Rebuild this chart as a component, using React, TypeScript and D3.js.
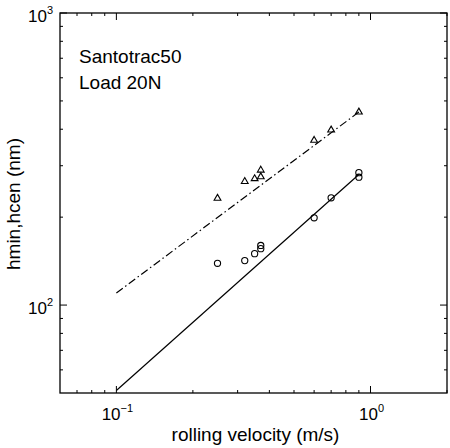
import React from "react";
import * as d3 from "d3";

const hminX = [0.25, 0.32, 0.35, 0.37, 0.37, 0.6, 0.7, 0.9, 0.9];
const hminY = [139, 142, 150, 156, 160, 199, 233, 274, 284];
const hcenX = [0.25, 0.32, 0.35, 0.37, 0.37, 0.6, 0.7, 0.9];
const hcenY = [233, 266, 272, 276, 291, 368, 399, 460];
const hminFitX = [0.1, 0.9];
const hminFitY = [51, 280];
const hcenFitX = [0.1, 0.9];
const hcenFitY = [110, 458];
const xMajor = [0.1, 1];
const xMinor = [0.07, 0.08, 0.09, 0.2, 0.3, 0.4, 0.5, 0.6, 0.7, 0.8, 0.9, 2];
const yMajor = [100, 1000];
const yMinor = [60, 70, 80, 90, 200, 300, 400, 500, 600, 700, 800, 900];
const xMajorExp = ["\u22121", "0"];
const yMajorExp = ["2", "3"];
const annot = ["Santotrac50", "Load 20N"];

export default function App() {
  const L = 60, R = 447, T = 13, B = 393;
  const x = d3.scaleLog().domain([0.06, 2]).range([L, R]);
  const y = d3.scaleLog().domain([50, 1000]).range([B, T]);
  const line = d3.line<number>();
  const fitPath = (xs: number[], ys: number[]) =>
    line(xs.map((v, i) => [x(v), y(ys[i])]) as any) || "";
  const font = "'Liberation Sans', Arial, Helvetica, sans-serif";
  const tri = (cx: number, cy: number) =>
    `M${cx},${cy - 3.4}L${cx + 3.4},${cy + 2.5}L${cx - 3.4},${cy + 2.5}Z`;
  return (
    <svg width={450} height={448} style={{ position: "absolute", left: 0, top: 0, background: "#fff" }} fontFamily={font}>
      <rect x={0} y={0} width={450} height={448} fill="#fff" />
      {/* ticks */}
      {xMinor.map((v) => (
        <g key={"xm" + v} stroke="#000" strokeWidth={1}>
          <line x1={x(v)} x2={x(v)} y1={B} y2={B - 3} />
          <line x1={x(v)} x2={x(v)} y1={T} y2={T + 3} />
        </g>
      ))}
      {xMajor.map((v) => (
        <g key={"xM" + v} stroke="#000" strokeWidth={1}>
          <line x1={x(v)} x2={x(v)} y1={B} y2={B - 7} />
          <line x1={x(v)} x2={x(v)} y1={T} y2={T + 7} />
        </g>
      ))}
      {yMinor.map((v) => (
        <g key={"ym" + v} stroke="#000" strokeWidth={1}>
          <line x1={L} x2={L + 3} y1={y(v)} y2={y(v)} />
          <line x1={R} x2={R - 3} y1={y(v)} y2={y(v)} />
        </g>
      ))}
      {yMajor.map((v) => (
        <g key={"yM" + v} stroke="#000" strokeWidth={1}>
          <line x1={L} x2={L + 7} y1={y(v)} y2={y(v)} />
          <line x1={R} x2={R - 7} y1={y(v)} y2={y(v)} />
        </g>
      ))}
      <rect x={L} y={T} width={R - L} height={B - T} fill="none" stroke="#000" strokeWidth={1.3} />
      {/* tick labels */}
      {xMajor.map((v, i) => (
        <text key={"xl" + v} x={x(v) + 1} y={420} fontSize={17} fill="#000" textAnchor="middle">
          10<tspan dy={-8} fontSize={11}>{xMajorExp[i]}</tspan>
        </text>
      ))}
      {yMajor.map((v, i) => (
        <text key={"yl" + v} x={28} y={y(v) + 9} fontSize={17} fill="#000">
          10<tspan dy={-8} fontSize={11}>{yMajorExp[i]}</tspan>
        </text>
      ))}
      <text x={(L + R) / 2 + 2} y={441} fontSize={19} textAnchor="middle" fill="#000">
        rolling velocity (m/s)
      </text>
      <text transform={`translate(20,204) rotate(-90)`} fontSize={19} textAnchor="middle" fill="#000">
        hmin,hcen (nm)
      </text>
      <text x={79} y={63} fontSize={19} fill="#000">{annot[0]}</text>
      <text x={79} y={89} fontSize={19} fill="#000">{annot[1]}</text>
      {/* fit lines */}
      <path d={fitPath(hminFitX, hminFitY)} stroke="#000" strokeWidth={1.2} fill="none" />
      <path d={fitPath(hcenFitX, hcenFitY)} stroke="#000" strokeWidth={1.2} fill="none" strokeDasharray="8,3,1.5,3" />
      {/* markers */}
      {hminX.map((v, i) => (
        <circle key={"c" + i} cx={x(v)} cy={y(hminY[i])} r={3.1} fill="none" stroke="#000" strokeWidth={1.1} />
      ))}
      {hcenX.map((v, i) => (
        <path key={"t" + i} d={tri(x(v), y(hcenY[i]))} fill="none" stroke="#000" strokeWidth={1.1} />
      ))}
    </svg>
  );
}
